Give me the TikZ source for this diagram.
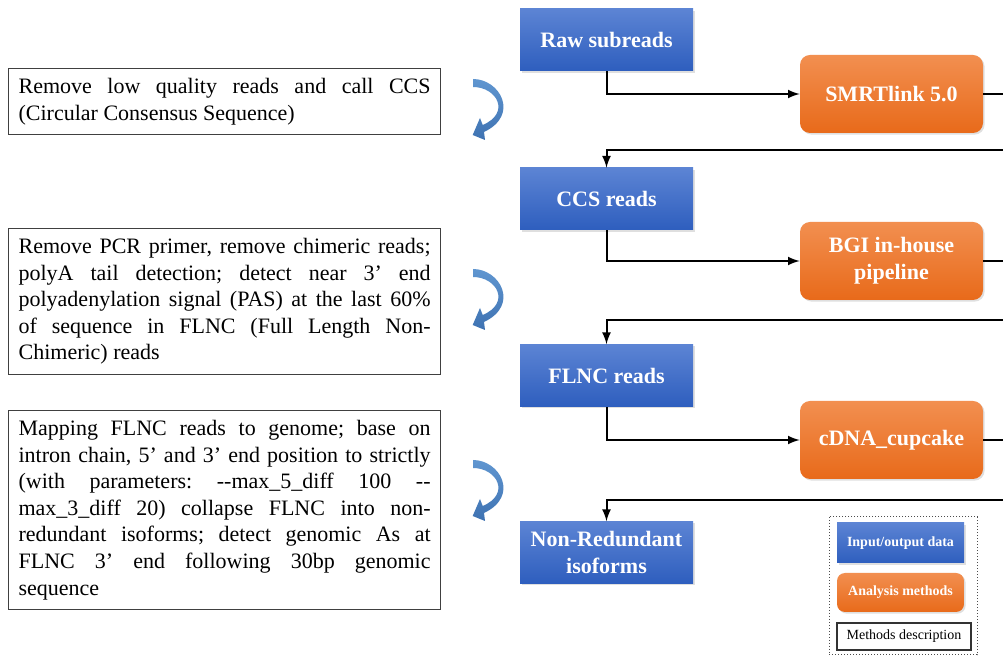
\documentclass[tikz,border=0pt]{standalone}
\usepackage{fontspec}
\setmainfont{Liberation Serif}
\usepackage{tikz}
\usetikzlibrary{positioning,calc,shadows,arrows.meta}

\definecolor{iobluetop}{RGB}{92,132,212}
\definecolor{ioblue}{RGB}{46,94,190}
\definecolor{methorangetop}{RGB}{242,143,80}
\definecolor{methorange}{RGB}{232,106,26}
\definecolor{arrowbluetop}{RGB}{96,150,208}
\definecolor{arrowblue}{RGB}{62,114,178}

\begin{document}
\begin{tikzpicture}[x=0.5pt,y=-0.5pt,
    databox/.style={minimum width=86.5pt,minimum height=31pt,top color=iobluetop,bottom color=ioblue,
      text=white,align=center,font=\bfseries\fontsize{11}{13.5}\selectfont,
      drop shadow={shadow xshift=0.8pt,shadow yshift=-0.8pt,opacity=0.25}},
    methodbox/.style={databox,minimum width=91.5pt,minimum height=39pt,rounded corners=5pt,
      top color=methorangetop,bottom color=methorange},
    descbox/.style={draw=black!75,line width=0.6pt,text width=206pt,inner xsep=5pt,inner ysep=4.8pt,
      align=justify,anchor=north west,font=\fontsize{11}{13.3}\selectfont\frenchspacing},
    flow/.style={line width=1pt,-latex}]
  \useasboundingbox (0,0) rectangle (1003,657);
  \clip (0,0) rectangle (1003,657);
  \fill[white] (0,0) rectangle (1003,657);
  % main flow
  \node[databox] (raw) at (606.5,40) {Raw subreads};
  \node[methodbox] (smrt) at (891.5,94) {SMRTlink 5.0};
  \node[databox] (ccs) at (606.5,199) {CCS reads};
  \node[methodbox] (bgi) at (891.5,261) {BGI in-house\\pipeline};
  \node[databox] (flnc) at (606.5,375.5) {FLNC reads};
  \node[methodbox] (cup) at (891.5,440) {cDNA\_cupcake};
  \node[databox] (nr) at (606.5,552.5) {Non-Redundant\\isoforms};
  \coordinate (ret1) at (1015,150);
  \coordinate (ret2) at (1015,320);
  \coordinate (ret3) at (1015,500);
  \draw[flow] (raw.south) |- (smrt.west);
  \draw[flow] (smrt.east) -| (ret1) -| (ccs.north);
  \draw[flow] (ccs.south) |- (bgi.west);
  \draw[flow] (bgi.east) -| (ret2) -| (flnc.north);
  \draw[flow] (flnc.south) |- (cup.west);
  \draw[flow] (cup.east) -| (ret3) -| (nr.north);
  % descriptions
  \node[descbox] (desc1) at (8,68) {Remove low quality reads and call CCS\linebreak (Circular Consensus Sequence)};
  \node[descbox] (desc2) at (8,228) {Remove PCR primer, remove chimeric reads;\linebreak
    polyA tail detection; detect near 3’ end\linebreak
    polyadenylation signal (PAS) at the last 60\%\linebreak
    of sequence in FLNC (Full Length Non-\linebreak Chimeric) reads};
  \node[descbox] (desc3) at (8,410) {Mapping FLNC reads to genome; base on\linebreak
    intron chain, 5’ and 3’ end position to strictly\linebreak
    (with parameters: -{}-max\_5\_diff 100 -{}-\linebreak
    max\_3\_diff 20) collapse FLNC into non-\linebreak
    redundant isoforms; detect genomic As at\linebreak
    FLNC 3’ end following 30bp genomic\linebreak sequence};
  % curved arrows
  \foreach \y in {77,267,458}{
    \shade[top color=arrowbluetop,bottom color=arrowblue,shift={(470,\y)}]
      (3,2) .. controls (30,2) and (50,38) .. (14,55) -- (15,63) -- (2.7,58) -- (10,41) -- (12.7,48)
      .. controls (41,36) and (27,10) .. (3,10) -- cycle;
  }
  % legend
  \draw[densely dotted,draw=black!70,line width=0.5pt] (829,517) rectangle (977,655);
  \node[databox,minimum width=63.5pt,minimum height=20pt,font=\bfseries\fontsize{7}{8}\selectfont] (legio) at (900.5,543) {Input/output data};
  \node[methodbox,minimum width=63.5pt,minimum height=19.5pt,rounded corners=4pt,font=\bfseries\fontsize{7}{8}\selectfont] (legmeth) at (900.5,592.5) {Analysis methods};
  \node[draw=black!80,line width=0.8pt,minimum width=67pt,minimum height=13.5pt,inner sep=1pt,font=\fontsize{7}{8}\selectfont] (legdesc) at (904,636.5) {Methods description};
\end{tikzpicture}
\end{document}
